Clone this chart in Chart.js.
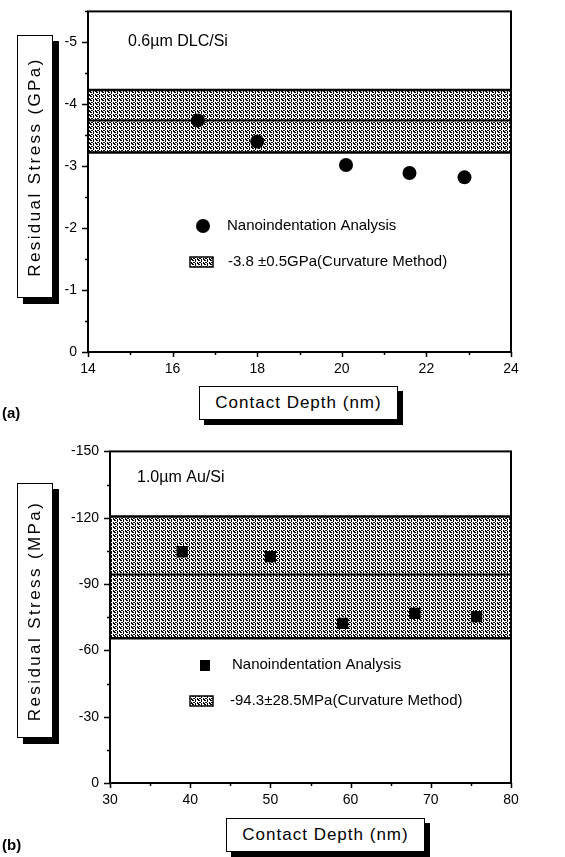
<!DOCTYPE html>
<html>
<head>
<meta charset="utf-8">
<script src="https://cdn.jsdelivr.net/npm/chart.js@4"></script>
<style>
  html, body { margin:0; padding:0; background:#fff; }
  body { width:565px; height:857px; position:relative; overflow:hidden; font-family:'Liberation Sans', Arial, sans-serif; }
  canvas { position:absolute; left:0; }
  .ybox { position:absolute; background:#fff; border:1.5px solid #000; box-shadow:6px 6px 0 #000; display:flex; align-items:center; justify-content:center; }
  .ybox span { transform:rotate(-90deg); white-space:nowrap; font-size:17px; letter-spacing:2.4px; color:#000; }
  .xbox { position:absolute; background:#fff; border:1.5px solid #000; box-shadow:5px 5px 0 #000; display:flex; align-items:center; justify-content:center; font-size:17px; letter-spacing:1px; color:#000; }
  .tag { position:absolute; font-weight:bold; font-size:15px; color:#000; }
</style>
</head>
<body>
<canvas id="ca" width="540" height="380" style="top:0"></canvas>
<canvas id="cb" width="540" height="370" style="top:440px"></canvas>

<div class="ybox" style="left:17px; top:35px; width:34px; height:261px;"><span>Residual Stress (GPa)</span></div>
<div class="ybox" style="left:17px; top:483px; width:34px; height:253px;"><span>Residual Stress (MPa)</span></div>
<div class="xbox" style="left:199px; top:386px; width:197px; height:32px;">Contact Depth (nm)</div>
<div class="xbox" style="left:226px; top:818px; width:197px; height:32px;">Contact Depth (nm)</div>
<div class="tag" style="left:2px; top:404px;">(a)</div>
<div class="tag" style="left:2px; top:836px;">(b)</div>

<script>
// ---------- data (a) ----------
const depthA = [16.6, 18.0, 20.1, 21.6, 22.9];
const stressA = [-3.74, -3.40, -3.02, -2.89, -2.82];
const bandCenterA = -3.74;
const bandLowA = -3.22;
const bandHighA = -4.23;
const xRangeA = [14, 24];
const yRangeA = [-5.5, 0];
const titleA = '0.6\u00b5m DLC/Si';
const legendPointsA = 'Nanoindentation Analysis';
const legendBandA = '-3.8 \u00b10.5GPa(Curvature Method)';

// ---------- data (b) ----------
const depthB = [39.0, 50.0, 59.0, 68.0, 75.7];
const stressB = [-104.6, -102.4, -72.2, -76.7, -75.3];
const bandCenterB = -94.3;
const bandLowB = -65.5;
const bandHighB = -120.5;
const xRangeB = [30, 80];
const yRangeB = [-150, 0];
const titleB = '1.0\u00b5m Au/Si';
const legendPointsB = 'Nanoindentation Analysis';
const legendBandB = '-94.3\u00b128.5MPa(Curvature Method)';

const FONT = "'Liberation Sans', Arial, sans-serif";

function makePattern(ctx) {
  const c = document.createElement('canvas');
  c.width = 6; c.height = 4;
  const g = c.getContext('2d');
  g.fillStyle = '#fff'; g.fillRect(0, 0, 6, 4);
  g.fillStyle = '#000';
  g.fillRect(0, 0, 2, 1);
  g.fillRect(3, 0, 1, 2);
  g.fillRect(1, 2, 2, 1);
  g.fillRect(5, 2, 1, 2);
  g.fillRect(3, 3, 1, 1);
  g.fillRect(0, 3, 1, 1);
  return ctx.createPattern(c, 'repeat');
}

function isMultiple(v, m) {
  const r = Math.abs(v / m - Math.round(v / m));
  return r < 1e-6;
}

const frameTicks = {
  id: 'frameTicks',
  afterDatasetsDraw(chart) {
    const ctx = chart.ctx, a = chart.chartArea;
    ctx.save();
    ctx.strokeStyle = '#000';
    ctx.lineWidth = 2;
    ctx.strokeRect(a.left, a.top, a.right - a.left, a.bottom - a.top);
    ctx.lineWidth = 1.5;
    const xs = chart.scales.x, ys = chart.scales.y;
    xs.ticks.forEach(t => {
      const px = Math.round(xs.getPixelForValue(t.value)) + 0.5;
      const major = t.label !== '';
      ctx.beginPath();
      ctx.moveTo(px, a.bottom);
      ctx.lineTo(px, a.bottom + (major ? 5 : 3));
      ctx.stroke();
    });
    ys.ticks.forEach(t => {
      const py = Math.round(ys.getPixelForValue(t.value)) + 0.5;
      const major = t.label !== '';
      ctx.beginPath();
      ctx.moveTo(a.left, py);
      ctx.lineTo(a.left - (major ? 6 : 3), py);
      ctx.stroke();
    });
    ctx.restore();
  }
};

function annot(opts) {
  return {
    id: 'annot',
    afterDraw(chart) {
      const ctx = chart.ctx;
      ctx.save();
      ctx.fillStyle = '#000';
      ctx.textBaseline = 'middle';
      ctx.font = '16px ' + FONT;
      ctx.fillText(opts.title, opts.titleX, opts.titleY);
      ctx.font = '15px ' + FONT;
      if (opts.marker === 'circle') {
        ctx.beginPath();
        ctx.arc(opts.mX, opts.mY, 7, 0, Math.PI * 2);
        ctx.fill();
      } else {
        ctx.fillRect(opts.mX - 5, opts.mY - 5, 10, 11);
      }
      ctx.fillText(opts.l1, opts.tX, opts.mY);
      ctx.fillStyle = opts.pattern;
      ctx.fillRect(opts.bX, opts.bY - 5, 23, 10);
      ctx.strokeStyle = '#000';
      ctx.lineWidth = 1.5;
      ctx.strokeRect(opts.bX, opts.bY - 5, 23, 10);
      ctx.fillStyle = '#000';
      ctx.fillText(opts.l2, opts.tX2, opts.bY);
      ctx.restore();
    }
  };
}

function build(canvasId, cfg) {
  const cv = document.getElementById(canvasId);
  const ctx = cv.getContext('2d');
  const pattern = makePattern(ctx);
  const pts = cfg.xs.map((x, i) => ({ x: x, y: cfg.ys[i] }));
  const hline = v => [{ x: cfg.xRange[0], y: v }, { x: cfg.xRange[1], y: v }];
  return new Chart(ctx, {
    type: 'scatter',
    data: {
      datasets: [
        { data: pts, pointStyle: cfg.marker, pointRadius: cfg.radius, backgroundColor: '#000', borderColor: '#000', borderWidth: 0, showLine: false },
        { type: 'line', data: hline(cfg.center), borderColor: '#000', borderWidth: 2, pointRadius: 0, fill: false },
        { type: 'line', data: hline(cfg.high), borderColor: '#000', borderWidth: 2.5, pointRadius: 0, fill: false },
        { type: 'line', data: hline(cfg.low), borderColor: '#000', borderWidth: 2.5, pointRadius: 0, fill: '-1', backgroundColor: pattern }
      ]
    },
    options: {
      responsive: false,
      animation: false,
      devicePixelRatio: 1,
      layout: { padding: { left: 0, right: cfg.padRight, top: cfg.padTop, bottom: 0 } },
      plugins: { legend: { display: false }, tooltip: { enabled: false } },
      scales: {
        x: {
          type: 'linear', min: cfg.xRange[0], max: cfg.xRange[1],
          grid: { display: false }, border: { display: false },
          afterFit: s => { s.height = cfg.xAxisH; },
          ticks: { stepSize: cfg.xStep, autoSkip: false, maxRotation: 0, padding: 1, color: '#000',
            font: { family: FONT, size: 14 },
            callback: v => isMultiple(v, cfg.xLabelEvery) ? String(Math.round(v)) : '' }
        },
        y: {
          type: 'linear', min: cfg.yRange[0], max: cfg.yRange[1], reverse: true,
          grid: { display: false }, border: { display: false },
          afterFit: s => { s.width = cfg.yAxisW; },
          ticks: { stepSize: cfg.yStep, autoSkip: false, padding: 3, color: '#000',
            font: { family: FONT, size: 14 },
            callback: v => isMultiple(v, cfg.yLabelEvery) ? String(Math.round(v)) : '' }
        }
      }
    },
    plugins: [frameTicks, annot(Object.assign({ pattern: pattern }, cfg.annot))]
  });
}

build('ca', {
  xs: depthA, ys: stressA, center: bandCenterA, low: bandLowA, high: bandHighA,
  xRange: xRangeA, yRange: yRangeA, marker: 'circle', radius: 7,
  padRight: 29, padTop: 11, xAxisH: 28, yAxisW: 88,
  xStep: 1, xLabelEvery: 2, yStep: 0.5, yLabelEvery: 1,
  annot: { title: titleA, titleX: 128, titleY: 42, marker: 'circle', mX: 203, mY: 226,
           l1: legendPointsA, tX: 227, bX: 190, bY: 262, l2: legendBandA, tX2: 228 }
});

build('cb', {
  xs: depthB, ys: stressB, center: bandCenterB, low: bandLowB, high: bandHighB,
  xRange: xRangeB, yRange: yRangeB, marker: 'rect', radius: 8,
  padRight: 29, padTop: 10, xAxisH: 27, yAxisW: 110,
  xStep: 5, xLabelEvery: 10, yStep: 15, yLabelEvery: 30,
  annot: { title: titleB, titleX: 137, titleY: 38, marker: 'rect', mX: 205, mY: 225,
           l1: legendPointsB, tX: 232, bX: 190, bY: 261, l2: legendBandB, tX2: 230 }
});
</script>
</body>
</html>
